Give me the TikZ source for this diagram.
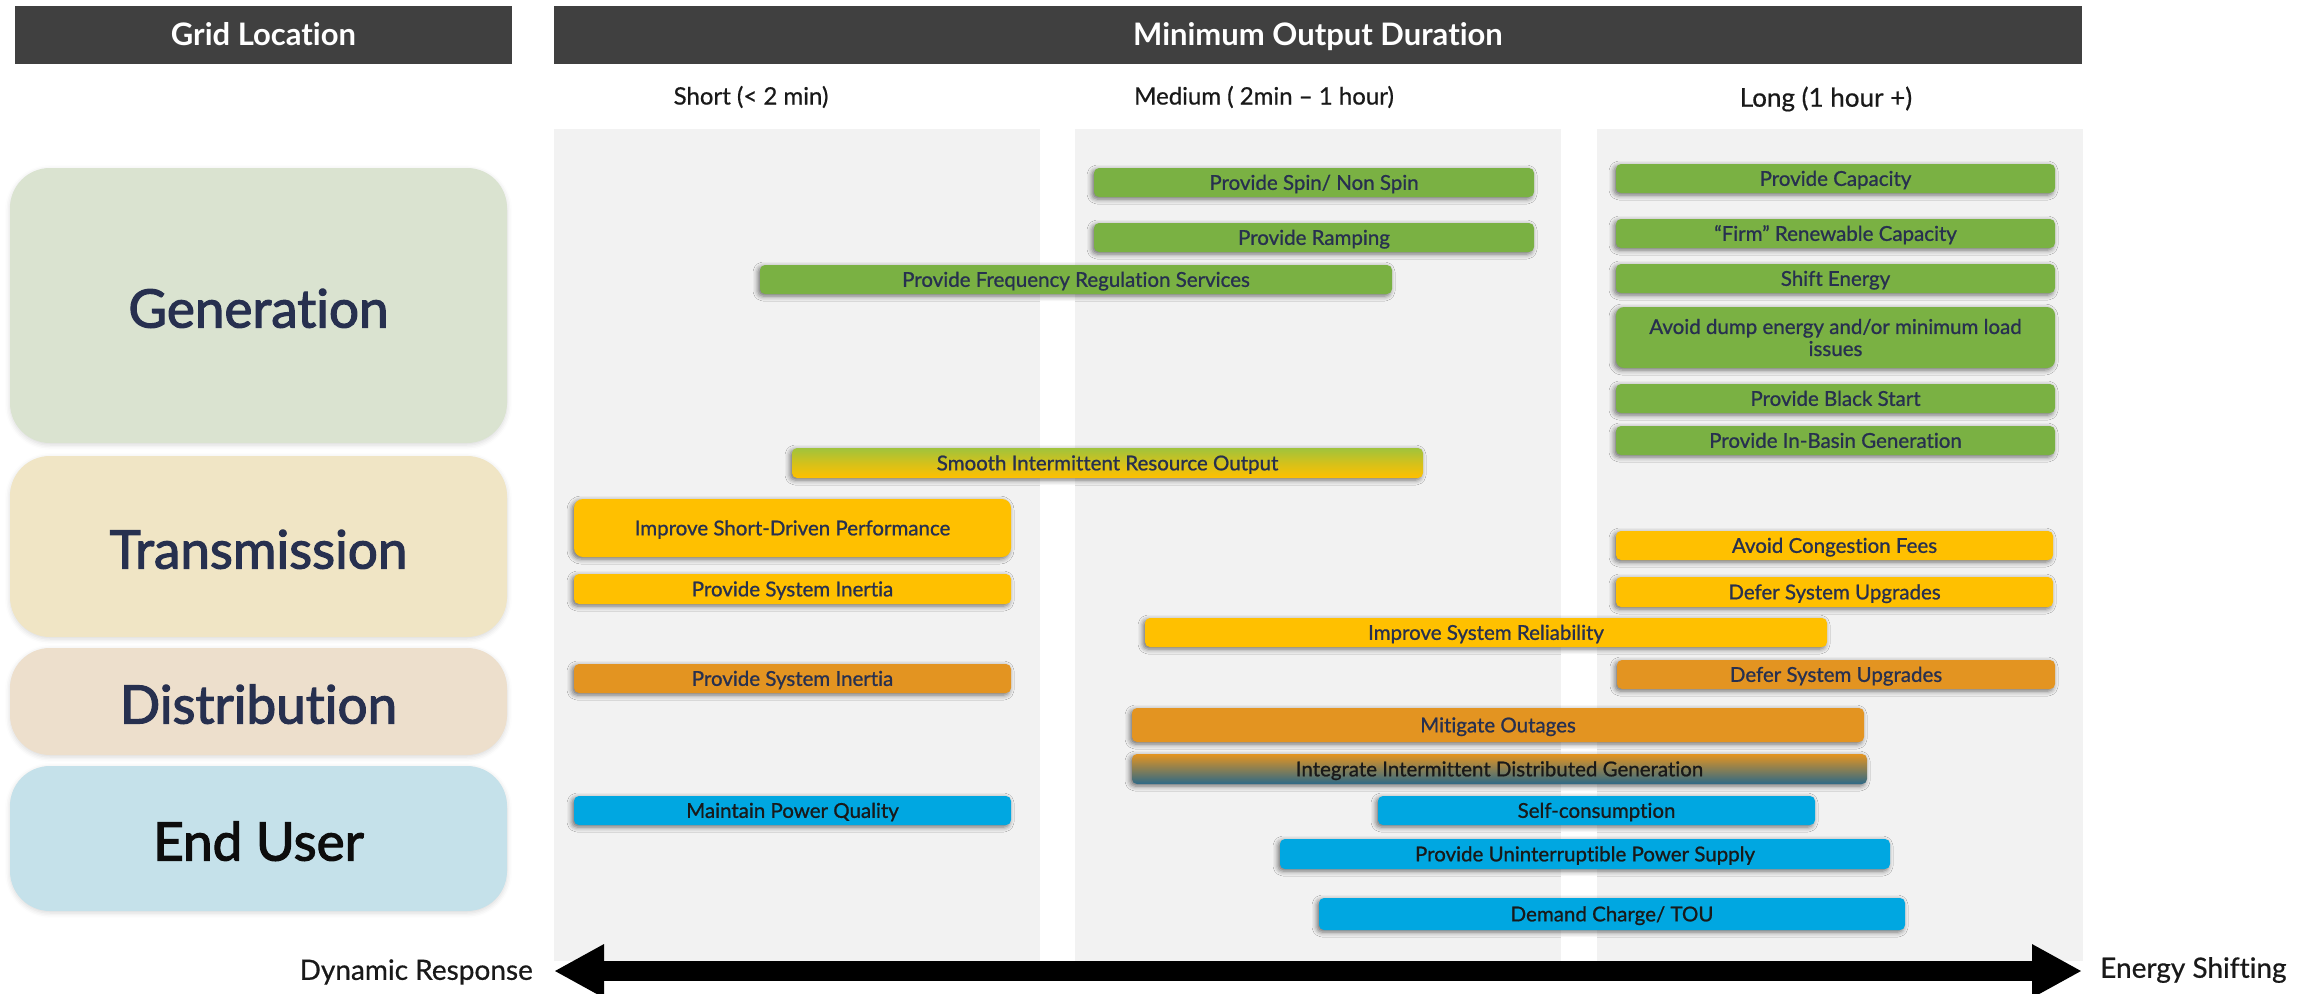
\documentclass[tikz,border=0pt]{standalone}
\usepackage{fontspec}
\setmainfont{Lato}[Ligatures=NoCommon]
\newfontfamily\catfont{Lato}[Ligatures=NoCommon,FakeBold=2.2]
\newfontfamily\barfont{Lato}[Ligatures=NoCommon,FakeBold=0.9]
\newfontfamily\lblfont{Lato}[Ligatures=NoCommon,FakeBold=0.6]
\usetikzlibrary{shadows.blur,arrows.meta}
\definecolor{hdrC}{HTML}{404040}
\definecolor{colbg}{HTML}{F2F2F2}
\definecolor{navy}{HTML}{27304F}
\definecolor{gC}{HTML}{7AB143}
\definecolor{yC}{HTML}{FFC000}
\definecolor{oC}{HTML}{E39421}
\definecolor{bC}{HTML}{00A7E1}
\definecolor{genC}{HTML}{DAE3D0}
\definecolor{traC}{HTML}{F0E5C5}
\definecolor{disC}{HTML}{EDDFCC}
\definecolor{endC}{HTML}{C5E1EA}
\definecolor{smG}{RGB}{160,195,60}
\definecolor{intB}{RGB}{45,105,135}
\newcommand{\mkbar}[7]{\node[bar,#6,minimum width={(#4-#2)*1pt},minimum height={(#5-#3)*1pt}] (#1) at ({(#2+#4)/2},{(#3+#5)/2}) {#7};}
\tikzset{
  barbase/.style={rounded corners=5pt, inner sep=0pt, text=navy, align=center,
    font=\barfont\fontsize{20.5}{24}\selectfont,
    blur shadow={shadow xshift=-2pt, shadow yshift=-2pt, shadow blur radius=5pt, shadow opacity=55}},
  bar/.style={barbase, text height=14.7pt, text depth=0pt},
  catbox/.style={rounded corners=40pt, inner sep=0pt, text=navy,
    font=\catfont\fontsize{53}{60}\selectfont, text height=44pt, text depth=0pt,
    blur shadow={shadow xshift=0pt, shadow yshift=-2pt, shadow blur radius=5pt, shadow opacity=15}},
  hdr/.style={fill=hdrC, text=white, inner sep=0pt, text height=22.2pt, text depth=0pt,
    font=\bfseries\fontsize{31}{35}\selectfont},
  collabel/.style={inner sep=0pt, text=black!90, font=\lblfont\fontsize{24}{28}\selectfont},
  endlabel/.style={inner sep=0pt, text=black!90, font=\lblfont\fontsize{28}{32}\selectfont},
  green/.style={fill=gC}, yellow/.style={fill=yC}, orange/.style={fill=oC}, blue/.style={fill=bC}
}
\begin{document}
\begin{tikzpicture}[x=1pt,y=-1pt]
\useasboundingbox (0,0) rectangle (2309,993);
% headers
\node[hdr,minimum width=497pt,minimum height=58pt] (hGrid) at (263.5,34.5) {Grid Location};
\node[hdr,minimum width=1528pt,minimum height=58pt] (hMin) at (1318,34.5) {Minimum Output Duration};
% column labels
\node[collabel] (lShort) at (751,97) {Short (< 2 min)};
\node[collabel] (lMed) at (1264,97) {Medium ( 2min – 1 hour)};
\node[collabel,font=\lblfont\fontsize{26}{30}\selectfont] (lLong) at (1826,99) {Long (1 hour +)};
% columns
\fill[colbg] (554,129) rectangle (1040,961);
\fill[colbg] (1075,129) rectangle (1561,961);
\fill[colbg] (1597,129) rectangle (2083,961);
% categories
\node[catbox,fill=genC,minimum width=497pt,minimum height=275pt] (cGen) at (258.5,305.5) {Generation};
\node[catbox,fill=traC,minimum width=497pt,minimum height=181pt] (cTra) at (258.5,546.5) {Transmission};
\node[catbox,fill=disC,minimum width=497pt,minimum height=107pt] (cDis) at (258.5,701.5) {Distribution};
\node[catbox,fill=endC,minimum width=497pt,minimum height=145pt,text=black!95] (cEnd) at (258.5,838.5) {End User};
% bars
\mkbar{spin}{1094}{168}{1534}{197}{green}{Provide Spin/ Non Spin}
\mkbar{ramp}{1094}{223}{1534}{252}{green}{Provide Ramping}
\mkbar{freq}{760}{265}{1392}{294}{green}{Provide Frequency Regulation Services}
\mkbar{cap}{1616}{164}{2055}{193}{green}{Provide Capacity}
\mkbar{firm}{1616}{219}{2055}{248}{green}{“Firm” Renewable Capacity}
\mkbar{shift}{1616}{264}{2055}{293}{green}{Shift Energy}
\node[barbase,fill=gC,rounded corners=8pt,minimum width=439pt,minimum height=61pt] (dump) at (1835.5,337.5) {\raisebox{-2pt}{Avoid dump energy and/or minimum load}\\issues};
\mkbar{black}{1616}{384}{2055}{413}{green}{Provide Black Start}
\mkbar{basin}{1616}{426}{2055}{455}{green}{Provide In-Basin Generation}
\mkbar{smooth}{792}{448}{1423}{478}{top color=smG,bottom color=yC,middle color=yC!55!smG}{Smooth Intermittent Resource Output}
\mkbar{isdp}{574}{499}{1011}{557}{yellow,rounded corners=9pt}{Improve Short-Driven Performance}
\mkbar{inT}{574}{574}{1011}{604}{yellow}{Provide System Inertia}
\mkbar{cong}{1616}{531}{2053}{560}{yellow}{Avoid Congestion Fees}
\mkbar{defT}{1616}{577}{2053}{607}{yellow}{Defer System Upgrades}
\mkbar{rel}{1145}{618}{1827}{647}{yellow}{Improve System Reliability}
\mkbar{inD}{574}{664}{1011}{693}{orange}{Provide System Inertia}
\mkbar{defD}{1617}{660}{2055}{689}{orange}{Defer System Upgrades}
\mkbar{mit}{1132}{708}{1864}{742}{orange}{Mitigate Outages}
\mkbar{integ}{1132}{754}{1867}{784}{top color=oC,middle color=oC,bottom color=intB,text=black!90}{Integrate Intermittent Distributed Generation}
\mkbar{mpq}{574}{796}{1011}{825}{blue,text=black!90}{Maintain Power Quality}
\mkbar{self}{1378}{796}{1815}{825}{blue,text=black!90}{Self-consumption}
\mkbar{ups}{1280}{839}{1890}{869}{blue,text=black!90}{Provide Uninterruptible Power Supply}
\mkbar{dct}{1319}{898}{1905}{930}{blue,text=black!90}{Demand Charge/ TOU}
% arrow
\coordinate (aL) at (554,971);
\coordinate (aR) at (2082,971);
\draw[line width=20pt,{Triangle[length=50pt,width=50pt]}-{Triangle[length=50pt,width=50pt]}] (aL) -- (aR);
\node[endlabel,anchor=east] (dyn) at (533,972) {Dynamic Response};
\node[endlabel,anchor=west] (eshift) at (2100,970) {Energy Shifting};
\end{tikzpicture}
\end{document}
